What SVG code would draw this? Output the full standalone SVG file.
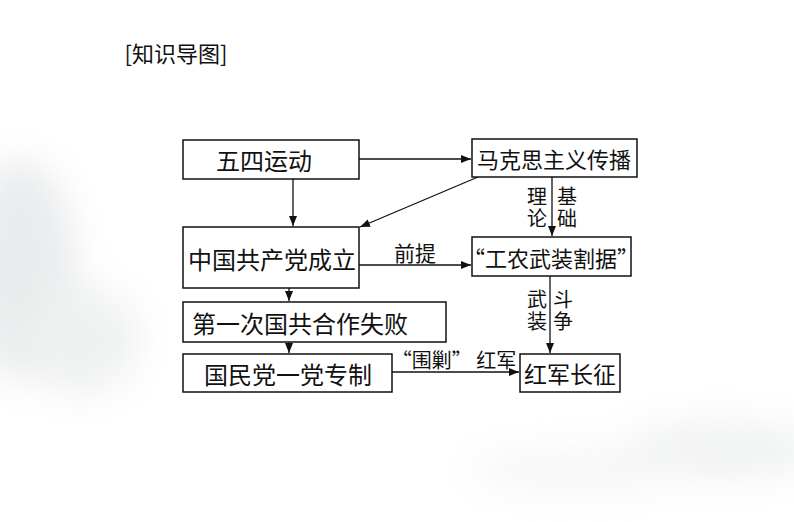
<svg xmlns="http://www.w3.org/2000/svg" width="794" height="522" viewBox="0 0 794 522">
<defs>
<style>
.box{fill:#fff;stroke:#111;stroke-width:1.5}
.t{font-family:"Noto Sans CJK SC","Liberation Serif",sans-serif;font-size:24px;fill:#111;text-anchor:middle;dominant-baseline:central}
.l{font-family:"Noto Sans CJK SC","Liberation Serif",sans-serif;font-size:20px;fill:#111;text-anchor:middle;dominant-baseline:central}
.v{font-family:"Noto Sans CJK SC","Liberation Serif",sans-serif;font-size:20px;fill:#111;text-anchor:middle;writing-mode:vertical-rl;letter-spacing:2px}
.c{fill:none;stroke:#111;stroke-width:1.3}
</style>
<marker id="ah" viewBox="0 0 10 10" refX="10" refY="5" markerWidth="10" markerHeight="10" markerUnits="userSpaceOnUse" orient="auto">
<path d="M0,1 L10,5 L0,9 Z" fill="#111"/>
</marker>
<filter id="blur" x="-50%" y="-50%" width="200%" height="200%"><feGaussianBlur stdDeviation="18"/></filter>
</defs>
<rect width="794" height="522" fill="#fff"/>
<g filter="url(#blur)" opacity="0.4">
<ellipse cx="20" cy="270" rx="55" ry="110" fill="#c9cdd0"/>
<ellipse cx="80" cy="340" rx="60" ry="55" fill="#d8dbdd"/>
<ellipse cx="720" cy="450" rx="100" ry="30" fill="#dcdfe1"/>
<ellipse cx="580" cy="470" rx="110" ry="22" fill="#e6e8e9"/>
</g>
<text x="176" y="52" class="t" style="font-size:22px">[知识导图]</text>
<g id="connectors">
<line class="c" x1="359" y1="159" x2="471" y2="159" marker-end="url(#ah)"/>
<line class="c" x1="293" y1="179" x2="293" y2="226" marker-end="url(#ah)"/>
<line class="c" x1="478" y1="177" x2="360" y2="227" marker-end="url(#ah)"/>
<line class="c" x1="359" y1="265" x2="471" y2="265" marker-end="url(#ah)"/>
<text x="415" y="252" class="l" style="font-size:21px">前提</text>
<line class="c" x1="552" y1="177" x2="552" y2="236" marker-end="url(#ah)"/>
<text x="537" y="208" class="v">理论</text>
<text x="567" y="208" class="v">基础</text>
<line class="c" x1="289" y1="288" x2="289" y2="301" marker-end="url(#ah)"/>
<line class="c" x1="289" y1="342" x2="289" y2="353" marker-end="url(#ah)"/>
<line class="c" x1="550" y1="276" x2="550" y2="353" marker-end="url(#ah)"/>
<text x="537" y="311" class="v">武装</text>
<text x="563" y="311" class="v">斗争</text>
<line class="c" x1="392" y1="372" x2="519" y2="372" marker-end="url(#ah)"/>
<text x="454" y="359" class="l">“围剿” 红军</text>
</g>
<g id="n1"><rect class="box" x="183" y="140" width="176" height="39"/><text x="264" y="159" class="t">五四运动</text></g>
<g id="n2"><rect class="box" x="472" y="139" width="165" height="38"/><text x="554" y="158" class="t" style="font-size:22px">马克思主义传播</text></g>
<g id="n3"><rect class="box" x="183" y="227" width="176" height="61"/><text x="272" y="258" class="t">中国共产党成立</text></g>
<g id="n4"><rect class="box" x="472" y="237" width="159" height="39"/><text x="551" y="257" class="t" style="font-size:22px">“工农武装割据”</text></g>
<g id="n5"><rect class="box" x="183" y="302" width="263" height="40"/><text x="300" y="322" class="t">第一次国共合作失败</text></g>
<g id="n6"><rect class="box" x="183" y="354" width="209" height="38"/><text x="288" y="373" class="t">国民党一党专制</text></g>
<g id="n7"><rect class="box" x="520" y="354" width="100" height="38"/><text x="570" y="373" class="t" style="font-size:23px">红军长征</text></g>
</svg>
